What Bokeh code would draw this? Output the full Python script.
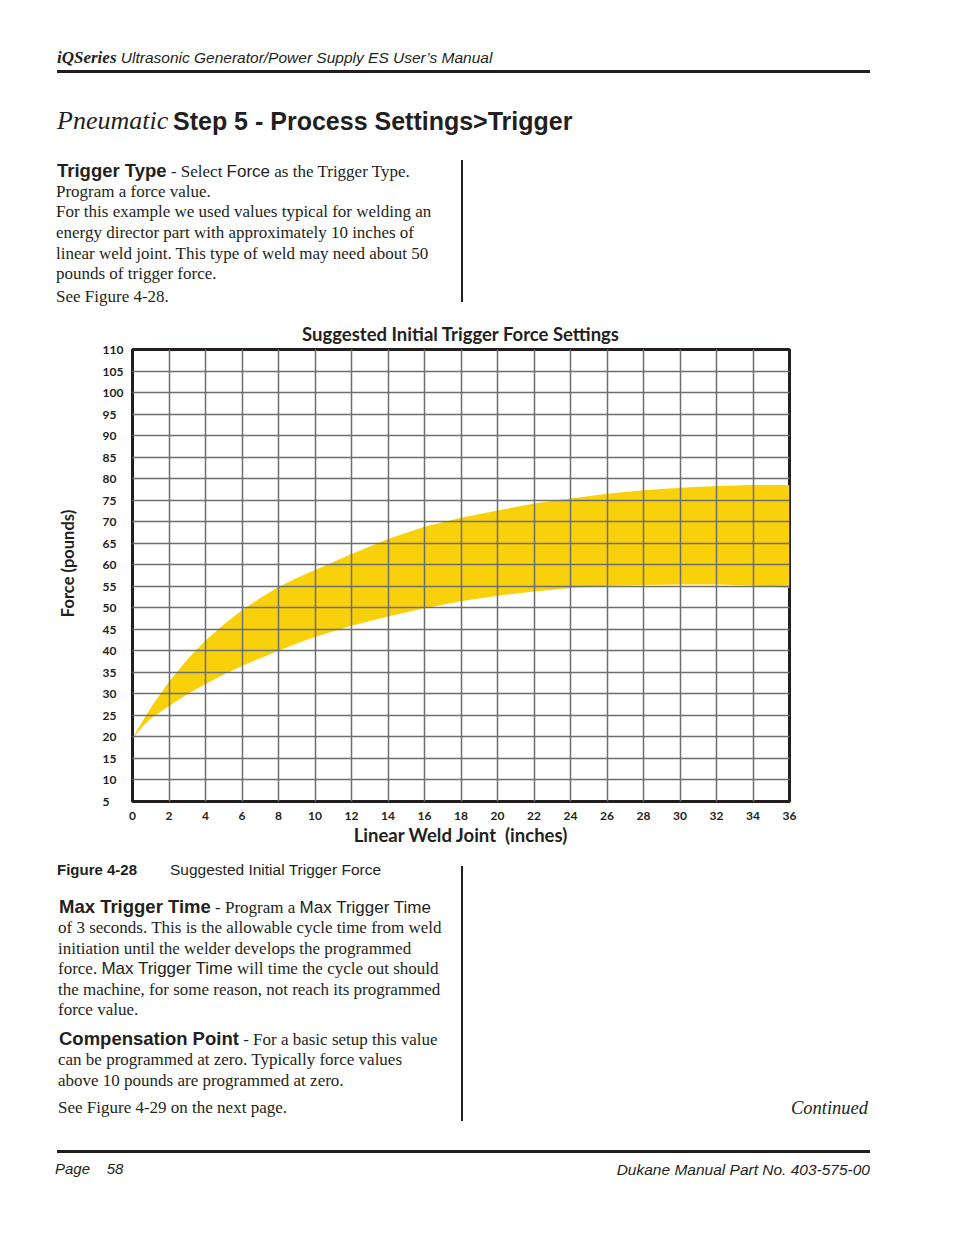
from bokeh.plotting import figure
from bokeh.models import Div, FixedTicker
from bokeh.layouts import column
from bokeh.embed import file_html
from bokeh.resources import INLINE

# ---- data ----
weld_inches_low = [0, 0.5, 1, 2, 3, 4, 5, 6, 7, 8, 9, 10, 12, 14, 16, 18, 20, 22, 24, 26, 28, 30, 32, 34, 36]
force_low = [19.6, 22.2, 24.3, 27.2, 29.9, 32.3, 34.5, 36.5, 38.3, 40.0, 41.7, 43.2, 45.8, 48.0, 49.9,
             51.5, 52.8, 53.8, 54.6, 55.1, 55.3, 55.4, 55.4, 55.2, 54.6]
weld_inches_high = [0, 0.25, 0.5, 1, 2, 3, 4, 5, 6, 7, 8, 9, 10, 12, 14, 16, 18, 20, 22, 24, 26, 28, 30, 32, 34, 36]
force_high = [19.6, 21.6, 23.3, 26.8, 32.8, 38.0, 42.4, 46.1, 49.4, 52.3, 54.8, 56.9, 58.8, 62.5, 66.0, 68.8,
              70.9, 72.6, 74.2, 75.4, 76.5, 77.3, 77.9, 78.3, 78.5, 78.5]
x_ticks = list(range(0, 37, 2))
y_ticks = list(range(5, 111, 5))

INK = "#231f20"
YELLOW = "#f9d10a"
GRID = "#6d6e71"
SERIF = "'Liberation Serif', 'Times New Roman', serif"
SANS = "'Liberation Sans', Arial, sans-serif"

# ---- chart ----
p = figure(width=954, height=550, x_range=(0, 36), y_range=(5, 110),
           output_backend="svg", toolbar_location=None,
           min_border_left=132, min_border_right=165, min_border_top=39, min_border_bottom=59,
           title="Suggested Initial Trigger Force Settings")
p.title.align = "center"
p.title.text_font = "Lato"
p.title.text_font_style = "bold"
p.title.text_font_size = "18.5px"
p.title.text_color = INK
p.title.standoff = 10

# band: upper edge forward, lower edge backward -> one closed polygon
band_x = weld_inches_high + weld_inches_low[::-1]
band_y = force_high + force_low[::-1]
p.patch(x=band_x, y=band_y, fill_color=YELLOW, fill_alpha=1, line_color=None)

p.xaxis.ticker = FixedTicker(ticks=x_ticks)
p.yaxis.ticker = FixedTicker(ticks=y_ticks)
p.yaxis.major_label_overrides = {t: str(t) + "\u2007" * (3 - len(str(t))) for t in y_ticks}
for ax in (p.xaxis[0], p.yaxis[0]):
    ax.axis_line_color = INK
    ax.axis_line_width = 3
    ax.major_tick_line_color = None
    ax.minor_tick_line_color = None
    ax.major_label_text_font = "Lato"
    ax.major_label_text_font_style = "bold"
    ax.major_label_text_font_size = "12px"
    ax.major_label_text_color = INK
    ax.axis_label_text_font = "Lato"
    ax.axis_label_text_font_style = "bold"
    ax.axis_label_text_color = INK
p.xaxis.axis_label = "Linear Weld Joint \u00a0(inches)"
p.xaxis.axis_label_text_font_size = "18.5px"
p.yaxis.axis_label = "\u00a0" * 6 + "Force (pounds)"
p.yaxis.axis_label_text_font_size = "16.5px"
p.xaxis.major_label_standoff = 4
p.xaxis.axis_label_standoff = 1
p.yaxis.major_label_standoff = 3
p.yaxis.axis_label_standoff = 22

for g in (p.xgrid[0], p.ygrid[0]):
    g.grid_line_color = GRID
    g.grid_line_width = 1.5
    g.level = "overlay"
p.outline_line_color = INK
p.outline_line_width = 3
p.background_fill_color = "white"
p.border_fill_color = "white"


# ---- page text ----
def line(x, yc, html, extra=""):
    return (f'<div style="position:absolute;left:{x}px;top:{yc - 11}px;line-height:22px;'
            f'white-space:nowrap;color:{INK};{extra}">{html}</div>')


def rline(xr, yc, html, extra=""):
    return (f'<div style="position:absolute;right:{954 - xr}px;top:{yc - 11}px;line-height:22px;'
            f'white-space:nowrap;color:{INK};{extra}">{html}</div>')


def rule(x, y, w, h):
    return f'<div style="position:absolute;left:{x}px;top:{y}px;width:{w}px;height:{h}px;background:{INK};"></div>'


def serif(t, size=17, style=""):
    return f'<span style="font-family:{SERIF};font-size:{size}px;{style}">{t}</span>'


def sans(t, size=17, style=""):
    return f'<span style="font-family:{SANS};font-size:{size}px;{style}">{t}</span>'


def bsans(t, size=18.5):
    return sans(t, size, "font-weight:bold;")


TOP_H = 310
top_parts = [
    line(57, 58, serif("iQSeries", 17, "font-weight:bold;font-style:italic;")
         + sans(" Ultrasonic Generator/Power Supply ES User’s Manual", 15.5, "font-style:italic;")),
    rule(57, 70, 813, 2.5),
    line(57, 121, serif("Pneumatic", 26, "font-style:italic;")),
    line(173, 121, bsans("Step 5 - Process Settings&gt;Trigger", 25)),
    line(57, 171, bsans("Trigger Type") + serif(" - Select ") + sans("Force") + serif(" as the Trigger Type.")),
    line(56, 192, serif("Program a force value.")),
    line(56, 212, serif("For this example we used values typical for welding an")),
    line(56, 233, serif("energy director part with approximately 10 inches of")),
    line(56, 254, serif("linear weld joint. This type of weld may need about 50")),
    line(56, 274, serif("pounds of trigger force.")),
    line(56, 297, serif("See Figure 4-28.")),
    rule(461, 160, 2, 142),
]

OFF = 860
bottom_parts = [
    line(57, 870 - OFF, bsans("Figure 4-28", 15)),
    line(170, 870 - OFF, sans("Suggested Initial Trigger Force", 15.5)),
    line(59, 907 - OFF, bsans("Max Trigger Time") + serif(" - Program a ") + sans("Max Trigger Time")),
    line(58, 928 - OFF, serif("of 3 seconds. This is the allowable cycle time from weld")),
    line(58, 949 - OFF, serif("initiation until the welder develops the programmed")),
    line(58, 969 - OFF, serif("force. ") + sans("Max Trigger Time") + serif(" will time the cycle out should")),
    line(58, 990 - OFF, serif("the machine, for some reason, not reach its programmed")),
    line(58, 1010 - OFF, serif("force value.")),
    line(59, 1039 - OFF, bsans("Compensation Point") + serif(" - For a basic setup this value")),
    line(58, 1060 - OFF, serif("can be programmed at zero. Typically force values")),
    line(58, 1081 - OFF, serif("above 10 pounds are programmed at zero.")),
    line(58, 1108 - OFF, serif("See Figure 4-29 on the next page.")),
    rline(868, 1108 - OFF, serif("Continued", 18.5, "font-style:italic;")),
    rule(461, 866 - OFF, 2, 255),
    rule(57, 1150 - OFF, 813, 2.5),
    line(55, 1169 - OFF, sans("Page&nbsp;&nbsp;&nbsp; 58", 15, "font-style:italic;")),
    rline(870, 1170 - OFF, sans("Dukane Manual Part No. 403-575-00", 15.5, "font-style:italic;")),
]


def page_div(parts, h):
    html = f'<div style="position:relative;width:954px;height:{h}px;overflow:hidden;background:white;">' + "".join(parts) + "</div>"
    return Div(text=html, width=954, height=h, margin=0)


top = page_div(top_parts, TOP_H)
bottom = page_div(bottom_parts, 1235 - 860)

layout = column(top, p, bottom, spacing=0)
open("out.html", "w").write(file_html(layout, INLINE))
